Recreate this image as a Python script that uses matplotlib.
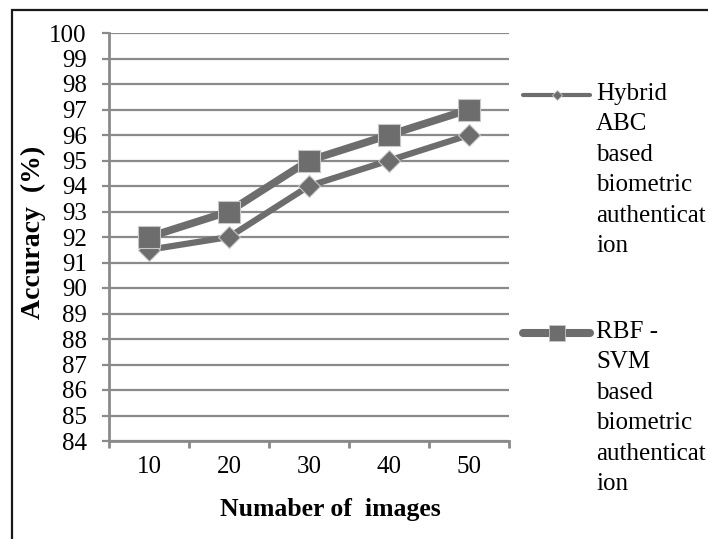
import numpy as np
import matplotlib
matplotlib.use("Agg")
import matplotlib.pyplot as plt
from matplotlib.lines import Line2D
from matplotlib.patches import Rectangle

plt.rcParams['font.family'] = ['Liberation Serif', 'DejaVu Serif']

# data
images = ['10', '20', '30', '40', '50']
hybrid_abc = [91.5, 92, 94, 95, 96]
rbf_svm = [92, 93, 95, 96, 97]
y_ticks = list(range(84, 101))
legend_labels = [
    "Hybrid\nABC\nbased\nbiometric\nauthenticat\nion",
    "RBF -\nSVM\nbased\nbiometric\nauthenticat\nion",
]

LINE = '#6d6d6d'
GRID = '#8a8a8a'
FS = 18

fig = plt.figure(figsize=(7.08, 5.39), dpi=100)
ax = fig.add_axes([109 / 708, 98 / 539, 400 / 708, 408 / 539])

# outer frame (only top and left visible in the reference)
fig.add_artist(Rectangle((12 / 708, -0.05), 1.0, 529 / 539 + 0.05,
                         transform=fig.transFigure, fill=False,
                         edgecolor='#1a1a1a', linewidth=1.6))

x = np.arange(1, len(images) + 1)
ax.plot(x, hybrid_abc, color=LINE, lw=4.5, marker='D', ms=11.5,
        mec='#c8c8c8', mew=0.8, zorder=3, clip_on=False)
ax.plot(x, rbf_svm, color=LINE, lw=5.5, marker='s', ms=16.5,
        mec='#c8c8c8', mew=0.8, zorder=4, clip_on=False)

ax.set_ylim(84, 100)
ax.set_yticks(y_ticks)
ax.set_xlim(0.5, len(images) + 0.5)
ax.set_xticks(np.arange(0.5, len(images) + 1))
ax.set_xticklabels([])
ax.set_xticks(x, minor=True)
ax.set_xticklabels(images, minor=True)

ax.grid(axis='y', color=GRID, lw=1.6)
ax.set_axisbelow(True)
for side in ['top', 'right']:
    ax.spines[side].set_visible(False)
for side in ['left', 'bottom']:
    ax.spines[side].set_color(GRID)
    ax.spines[side].set_linewidth(2)

ax.tick_params(axis='y', which='major', length=5, width=1.6, color=GRID,
               pad=11, labelsize=FS)
ax.tick_params(axis='x', which='major', length=5, width=2, color=GRID)
ax.tick_params(axis='x', which='minor', length=0, pad=11, labelsize=FS)

ax.set_xlabel('Numaber of  images', fontsize=18.5, fontweight='bold', va='center')
ax.xaxis.set_label_coords(0.554, -0.169)
ax.set_ylabel('Accuracy  (%)', fontsize=20, fontweight='bold', va='center')
ax.yaxis.set_label_coords(-0.19, 0.511)

# legend drawn by hand so the key sits on the first text line
keys = [
    dict(lw=3, marker='D', ms=5.5, y=0.848, ty=0.664),
    dict(lw=5.8, marker='s', ms=11, y=0.265, ty=0.081),
]
for k, lab in zip(keys, legend_labels):
    ax.add_line(Line2D([1.035, 1.2025], [k['y'], k['y']], transform=ax.transAxes,
                       color=LINE, lw=k['lw'], solid_capstyle='round', clip_on=False))
    ax.add_line(Line2D([1.12], [k['y']], transform=ax.transAxes, color=LINE,
                       marker=k['marker'], ms=k['ms'], mec='#c8c8c8', mew=0.6,
                       clip_on=False))
    ax.text(1.2175, k['ty'], lab, transform=ax.transAxes, fontsize=FS,
            va='center', ha='left', linespacing=1.5)

fig.savefig('out.png', dpi=100)
